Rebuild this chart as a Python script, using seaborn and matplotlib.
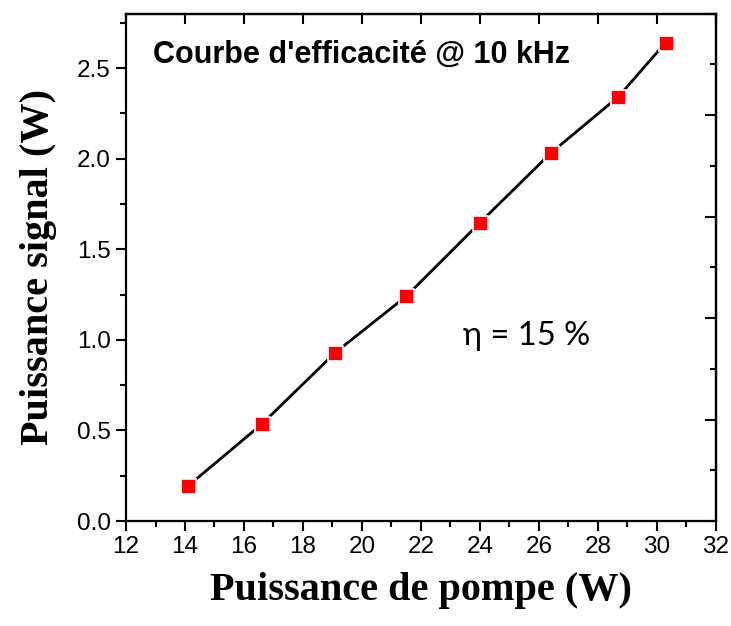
import numpy as np
import pandas as pd
import matplotlib
matplotlib.use("Agg")
import matplotlib.pyplot as plt
from matplotlib.ticker import MultipleLocator, FixedLocator, NullFormatter
import seaborn as sns

# Pump power (W) and signal output power (W)
pump_power = [14.1, 16.6, 19.1, 21.5, 24.0, 26.4, 28.7, 30.3]
signal_power = [0.193, 0.534, 0.93, 1.24, 1.646, 2.03, 2.342, 2.64]

x_ticks = [12, 14, 16, 18, 20, 22, 24, 26, 28, 30, 32]
y_ticks = [0.0, 0.5, 1.0, 1.5, 2.0, 2.5]

title_text = "Courbe d'efficacité @ 10 kHz"
eta_text = "η = 15 %"
x_label = "Puissance de pompe (W)"
y_label = "Puissance signal (W)"

df = pd.DataFrame({"pump": pump_power, "signal": signal_power})

sns.set_style("ticks")
plt.rcParams["font.family"] = ["Liberation Sans", "DejaVu Sans"]
plt.rcParams["text.color"] = "black"
plt.rcParams["axes.labelcolor"] = "black"

fig = plt.figure(figsize=(7.31, 6.26), dpi=100)
ax = fig.add_axes([0.1724, 0.1677, 0.979 - 0.1724, 0.978 - 0.1677])

sns.lineplot(data=df, x="pump", y="signal", ax=ax, color="black", linewidth=2.0,
             marker="s", markersize=10.8, markerfacecolor="#ff0000",
             markeredgecolor="white", markeredgewidth=1.2)

ax.set_xlim(12, 32)
ax.set_ylim(0, 2.8)

ax.xaxis.set_major_locator(FixedLocator(x_ticks))
ax.xaxis.set_minor_locator(MultipleLocator(1))
ax.yaxis.set_major_locator(FixedLocator(y_ticks))
ax.yaxis.set_minor_locator(MultipleLocator(0.25))
ax.set_xticklabels([str(v) for v in x_ticks])
ax.set_yticklabels([f"{v:.1f}" for v in y_ticks])

ax.tick_params(axis="both", which="major", direction="out", length=7, width=1.5,
               labelsize=17.5, pad=4, colors="black", labelcolor="black")
ax.tick_params(axis="both", which="minor", direction="out", length=4, width=1.5,
               colors="black")

for sp in ax.spines.values():
    sp.set_visible(True)
    sp.set_linewidth(1.6)
    sp.set_color("black")

# Top axis: inward ticks at major positions only
top = ax.secondary_xaxis("top")
top.xaxis.set_major_locator(FixedLocator(x_ticks))
top.xaxis.set_major_formatter(NullFormatter())
top.tick_params(axis="x", which="major", direction="in", length=7, width=1.5,
                colors="black")
top.spines["top"].set_linewidth(1.6)
top.spines["top"].set_color("black")

# Right axis: inward ticks dividing the range into ten parts
right = ax.secondary_yaxis("right")
r_all = np.linspace(0, 2.8, 11)
right.yaxis.set_major_locator(FixedLocator(r_all[::2]))
right.yaxis.set_minor_locator(FixedLocator(r_all[1::2]))
right.yaxis.set_major_formatter(NullFormatter())
right.tick_params(axis="y", which="major", direction="in", length=8, width=1.5,
                  colors="black")
right.tick_params(axis="y", which="minor", direction="in", length=4.5, width=1.5,
                  colors="black")
right.spines["right"].set_linewidth(1.6)
right.spines["right"].set_color("black")

ax.set_xlabel(x_label, family=["Liberation Serif", "DejaVu Serif"], fontweight="bold",
              fontsize=29, labelpad=10, color="black")
ax.set_ylabel(y_label, family=["Liberation Serif", "DejaVu Serif"], fontweight="bold",
              fontsize=29, labelpad=14, color="black")

ax.text(0.045, 0.92, title_text, transform=ax.transAxes, ha="left", va="center",
        family=["Liberation Sans Narrow", "Liberation Sans", "DejaVu Sans"],
        fontweight="bold", fontsize=22, color="black")
ax.text(0.571, 0.364, eta_text, transform=ax.transAxes, ha="left", va="center",
        family=["Lato", "DejaVu Sans"], fontsize=23.5, color="black")

fig.savefig("out.png", dpi=100)
